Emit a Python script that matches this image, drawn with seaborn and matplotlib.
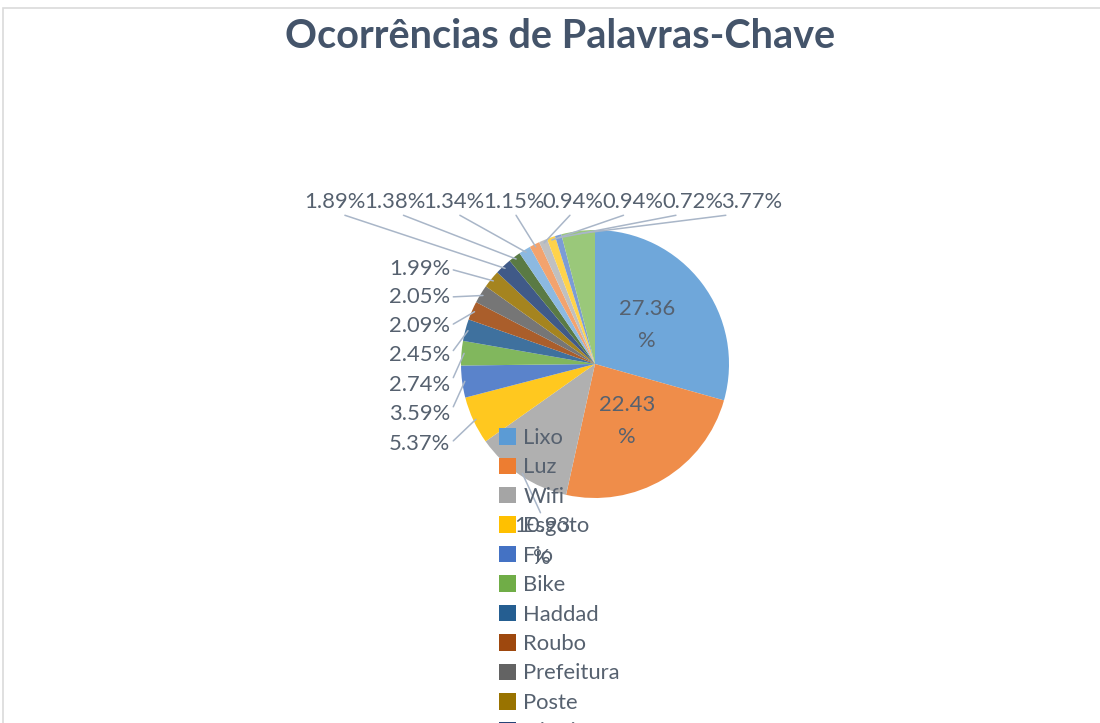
import numpy as np
import matplotlib
matplotlib.use("Agg")
import matplotlib.pyplot as plt
from matplotlib.patches import Patch, Rectangle
import seaborn as sns

# data (Excel pie, labels in %)
categories = ["Lixo", "Luz", "Wifi", "Esgoto", "Fio", "Bike", "Haddad", "Roubo",
              "Prefeitura", "Poste", "Distrito", "Buraco", "Ônibus", "Metrô",
              "Trânsito", "Calçada", "Árvore", "Outros"]
values = [27.36, 22.43, 10.93, 5.37, 3.59, 2.74, 2.45, 2.09,
          2.05, 1.99, 1.89, 1.38, 1.34, 1.15, 0.94, 0.94, 0.72, 3.77]
colors = ["#5B9BD5", "#ED7D31", "#A5A5A5", "#FFC000", "#4472C4", "#70AD47",
          "#255E91", "#9E480E", "#636363", "#997300", "#264478", "#43682B",
          "#7CAFDD", "#F1975A", "#B7B7B7", "#FFCD33", "#698ED0", "#8CC168"]

W, H = 1100, 723
TXT = "#56616F"
LINE = "#A9B6C8"

sns.set_theme(style="white")
plt.rcParams["font.family"] = ["Lato", "DejaVu Sans"]

fig = plt.figure(figsize=(W / 100, H / 100), dpi=100)
ax = fig.add_axes([0, 0, 1, 1])

def py(y):
    # pixel row (from top) -> data y
    return H - y

# slightly lighter fill, like the gradient shading of the original
pal = sns.color_palette(colors)
pie_cols = [tuple(0.88 * np.array(c) + 0.12) for c in pal]

wedges, _ = ax.pie(values, colors=pie_cols, startangle=90,
                   counterclock=False, center=(595, py(364)), radius=134,
                   wedgeprops=dict(linewidth=0))
ax.set_xlim(0, W)
ax.set_ylim(0, H)
ax.set_aspect("equal")
ax.axis("off")

def edge_point(w, frac=0.98):
    ang = np.deg2rad((w.theta1 + w.theta2) / 2)
    cx, cy = w.center
    return cx + w.r * frac * np.cos(ang), cy + w.r * frac * np.sin(ang)

fs = 15.8
arrow = dict(arrowstyle="-", color=LINE, lw=1.1, shrinkA=0, shrinkB=0)

# labels inside the two big slices
ax.text(647, py(325), f"{values[0]:.2f}\n%", ha="center", va="center",
        fontsize=fs, color=TXT, linespacing=1.75)
ax.text(627, py(421), f"{values[1]:.2f}\n%", ha="center", va="center",
        fontsize=fs, color=TXT, linespacing=1.75)

# Wifi label below the pie
ax.annotate(f"{values[2]:.2f}\n%", xy=edge_point(wedges[2]), xytext=(542, py(542)),
            ha="center", va="center", fontsize=fs, color=TXT, linespacing=1.75,
            zorder=6, arrowprops=dict(arrow, relpos=(0.5, 1.0)))

# left column labels
left_rows = [444, 414, 385, 355, 326, 297, 269]
for i, yr in zip(range(3, 10), left_rows):
    ax.annotate(f"{values[i]:.2f}%", xy=edge_point(wedges[i]), xytext=(450, py(yr)),
                ha="right", va="center", fontsize=fs, color=TXT,
                arrowprops=dict(arrow, relpos=(1.0, 0.5)))

# top row labels
top_x = [335, 395, 454, 514, 573, 633, 693, 752]
for i, xc in zip(range(10, 18), top_x):
    ax.annotate(f"{values[i]:.2f}%", xy=edge_point(wedges[i]), xytext=(xc, py(202)),
                ha="center", va="center", fontsize=fs, color=TXT,
                arrowprops=dict(arrow, relpos=(0.5, 0.0)))

# title
fig.text(560 / W, 1 - 36 / H, "Ocorrências de Palavras-Chave", ha="center", va="center",
         fontsize=28.5, fontweight="bold", color="#44546A")

# chart area border (cut on right/bottom)
fig.patches.append(Rectangle((3 / W, -0.1), 1.2, 1.1 - 8 / H, transform=fig.transFigure,
                             fill=False, edgecolor="#DADADA", lw=1.2))

# legend overlapping the pie, running off the bottom
handles = [Patch(facecolor=c, edgecolor="none") for c in colors]
fig.legend(handles, categories, loc="upper left",
           bbox_to_anchor=(499 / W, 1 - 428 / H), frameon=False, fontsize=fs,
           handlelength=0.78, handleheight=0.78, handletextpad=0.33,
           labelspacing=0.43, borderpad=0, borderaxespad=0,
           labelcolor=TXT)

fig.savefig("out.png", dpi=100)
